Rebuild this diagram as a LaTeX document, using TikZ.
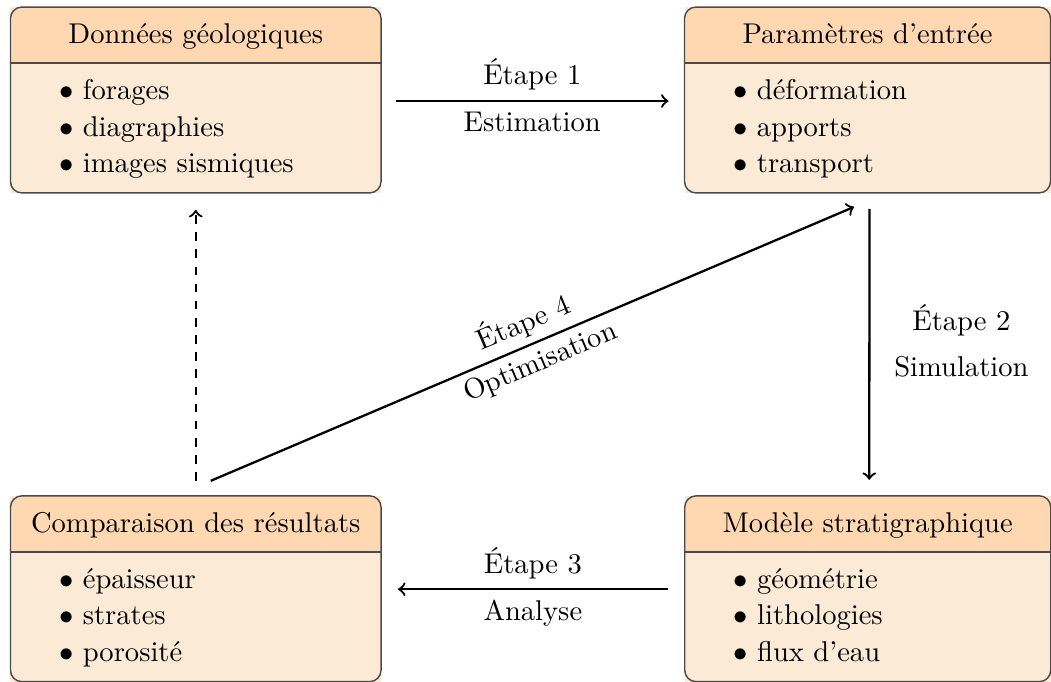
\documentclass[tikz,border=0pt]{standalone}
\usetikzlibrary{calc}
\definecolor{headc}{HTML}{FFD8B2}
\definecolor{bodyc}{HTML}{FAEAD6}
\definecolor{edgec}{HTML}{4A4A4A}
\begin{document}
\begin{tikzpicture}[x=0.35pt,y=-0.35pt,
  boxbg/.style={fill=bodyc, inner sep=0pt, outer sep=0pt, minimum height=65.05pt},
  wideA/.style={minimum width=129.7pt},
  wideB/.style={minimum width=128.1pt},
  headtxt/.style={anchor=base, inner sep=0pt},
  listtxt/.style={anchor=base west, inner sep=0pt, align=left, font=\fontsize{10}{12.78}\selectfont},
  conn/.style={thick, ->},
  lbl/.style={inner sep=0.333em},
  slbl/.style={inner sep=2.4pt}
]
\useasboundingbox (0,0) rectangle (1051,682);

\node[boxbg, wideA] (A) at (195.75,100) {};
\node[boxbg, wideB] (B) at (867.5,100) {};
\node[boxbg, wideB] (C) at (867.75,588.75) {};
\node[boxbg, wideA] (D) at (195.75,588.75) {};

\foreach \n in {A,B,C,D}{
  \fill[headc] ($(\n.north west)+(0,56)$) [rounded corners=4pt] -- (\n.north west) -- (\n.north east) [sharp corners] -- ($(\n.north east)+(0,56)$) -- cycle;
  \draw[edgec, line width=0.5pt] ($(\n.north west)+(0,56)$) -- ($(\n.north east)+(0,56)$);
  \draw[edgec, line width=0.5pt, rounded corners=4pt] (\n.north west) rectangle (\n.south east);
}

\node[headtxt] (Ah) at ($(A.north)+(0,36.5)$) {Données géologiques};
\node[headtxt] (Bh) at ($(B.north)+(0,36.5)$) {Paramètres d’entrée};
\node[headtxt] (Ch) at ($(C.north)+(0,36.5)$) {Modèle stratigraphique};
\node[headtxt] (Dh) at ($(D.north)+(0,36.5)$) {Comparaison des résultats};

\node[listtxt] (Al) at ($(A.north west)+(48,165.5)$) {$\bullet$ forages\\ $\bullet$ diagraphies\\ $\bullet$ images sismiques};
\node[listtxt] (Bl) at ($(B.north west)+(48,165.5)$) {$\bullet$ déformation\\ $\bullet$ apports\\ $\bullet$ transport};
\node[listtxt] (Cl) at ($(C.north west)+(48,165.5)$) {$\bullet$ géométrie\\ $\bullet$ lithologies\\ $\bullet$ flux d’eau};
\node[listtxt] (Dl) at ($(D.north west)+(48,165.5)$) {$\bullet$ épaisseur\\ $\bullet$ strates\\ $\bullet$ porosité};

% Step 1
\draw[conn] ($(A.east)+(15,1)$) -- ($(B.west)+(-16,1)$)
  node[midway, above, lbl] {Étape 1} node[midway, below, lbl] {Estimation};
% Step 2
\draw[conn] ($(B.south)+(2,16)$) -- ($(C.north)+(1.5,-16)$)
  coordinate[midway] (m2);
\node[above, lbl] (s2a) at ($(m2)+(92,2)$) {Étape 2};
\node[below, lbl] (s2b) at ($(m2)+(92,2)$) {Simulation};
% Step 3
\draw[conn] ($(C.west)+(-17,0.5)$) -- ($(D.east)+(17,0.5)$)
  node[midway, above, lbl] {Étape 3} node[midway, below, lbl] {Analyse};
% Step 4
\draw[conn] ($(D.north)+(15,-15)$) -- ($(B.south)+(-13.5,14)$)
  node[midway, sloped, above, slbl] {Étape 4} node[midway, sloped, below, slbl] {Optimisation};
% Feedback
\draw[conn, dashed] ($(D.north)+(0,-15)$) -- ($(A.south)+(0,17)$);
\end{tikzpicture}
\end{document}
